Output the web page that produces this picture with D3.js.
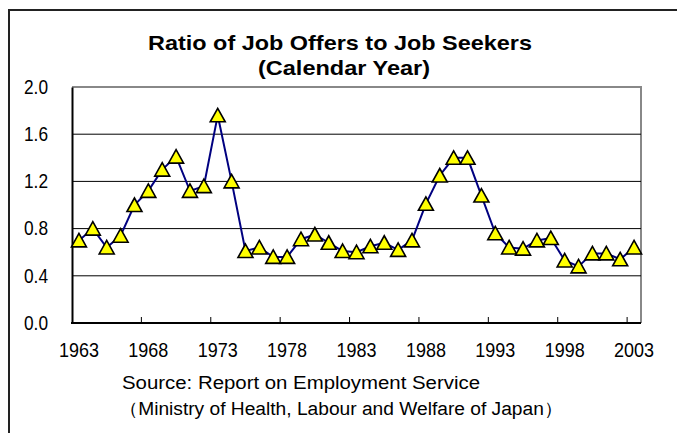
<!DOCTYPE html>
<html>
<head>
<meta charset="utf-8">
<script src="https://cdn.jsdelivr.net/npm/d3@7"></script>
<style>
  body { margin: 0; background: #fff; }
  text { font-family: "Liberation Sans", Arial, sans-serif; fill: #000; }
</style>
</head>
<body>
<div id="app"></div>
<script>
const WIDTH = 677
const HEIGHT = 433

// data
const years = d3.range(1963, 2004)
const ratios = [
  0.70, 0.80, 0.64, 0.74, 1.00, 1.12, 1.30, 1.41, 1.12, 1.16,
  1.76, 1.20, 0.61, 0.64, 0.56, 0.56, 0.71, 0.75, 0.68, 0.61,
  0.60, 0.65, 0.68, 0.62, 0.70, 1.01, 1.25, 1.40, 1.40, 1.08,
  0.76, 0.64, 0.63, 0.70, 0.72, 0.53, 0.48, 0.59, 0.59, 0.54,
  0.64
]
const yTicks = [0, 0.4, 0.8, 1.2, 1.6, 2.0]
const labelYears = [1963, 1968, 1973, 1978, 1983, 1988, 1993, 1998, 2003]
const tickYears = [1968, 1973, 1978, 1983, 1988, 1993, 1998, 2003]

const titleLines = ['Ratio of Job Offers to Job Seekers', '(Calendar Year)']
const sourceLines = ['Source: Report on Employment Service', '（Ministry of Health, Labour and Welfare of Japan）']

const plot = { left: 72, right: 641, top: 87, bottom: 323 }

const x = d3.scaleBand()
  .domain(years)
  .range([plot.left, plot.right])
  .padding(0)

const y = d3.scaleLinear()
  .domain([0, 2])
  .range([plot.bottom, plot.top])

const cx = d => x(d) + x.bandwidth() / 2

const svg = d3.select('#app').append('svg')
  .attr('width', WIDTH)
  .attr('height', HEIGHT)

// outer chart frame (only top and left visible)
svg.append('path')
  .attr('d', `M9,${HEIGHT}V10H${WIDTH}`)
  .attr('fill', 'none')
  .attr('stroke', '#222')
  .attr('stroke-width', 2)

// title
svg.append('text')
  .attr('x', 340).attr('y', 50)
  .attr('text-anchor', 'middle')
  .attr('font-size', 21).attr('font-weight', 'bold')
  .attr('textLength', 384).attr('lengthAdjust', 'spacingAndGlyphs')
  .text(titleLines[0])
svg.append('text')
  .attr('x', 344).attr('y', 75)
  .attr('text-anchor', 'middle')
  .attr('font-size', 21).attr('font-weight', 'bold')
  .attr('textLength', 172).attr('lengthAdjust', 'spacingAndGlyphs')
  .text(titleLines[1])

// plot area border (top and right, gray)
svg.append('path')
  .attr('d', `M${plot.left},${plot.top}H${plot.right}V${plot.bottom}`)
  .attr('fill', 'none')
  .attr('stroke', '#888')
  .attr('stroke-width', 2)

// gridlines
svg.append('g')
  .selectAll('line')
  .data(yTicks.filter(d => d > 0 && d < 2))
  .join('line')
  .attr('x1', plot.left).attr('x2', plot.right)
  .attr('y1', d => y(d)).attr('y2', d => y(d))
  .attr('stroke', '#000')
  .attr('stroke-width', 1)

// y axis
const yAxis = svg.append('g')
  .attr('transform', `translate(${plot.left},0)`)
  .call(d3.axisLeft(y).tickValues(yTicks).tickFormat(d3.format('.1f')).tickSize(0).tickPadding(24))
yAxis.select('.domain').attr('stroke', '#000').attr('stroke-width', 2)
yAxis.selectAll('text')
  .attr('font-size', 19.5).attr('font-family', null)
  .attr('textLength', 24).attr('lengthAdjust', 'spacingAndGlyphs')

// x axis labels
const xAxis = svg.append('g')
  .attr('transform', `translate(0,${plot.bottom})`)
  .call(d3.axisBottom(x).tickValues(labelYears).tickSize(0).tickPadding(20))
xAxis.select('.domain').remove()
xAxis.selectAll('text')
  .attr('font-size', 19.5).attr('font-family', null)
  .attr('textLength', 40).attr('lengthAdjust', 'spacingAndGlyphs')

svg.append('line')
  .attr('x1', plot.left - 1).attr('x2', plot.right)
  .attr('y1', plot.bottom).attr('y2', plot.bottom)
  .attr('stroke', '#000').attr('stroke-width', 2)

// x tick marks at category boundaries, pointing inwards
svg.append('g')
  .selectAll('line')
  .data(tickYears)
  .join('line')
  .attr('x1', d => x(d)).attr('x2', d => x(d))
  .attr('y1', plot.bottom).attr('y2', plot.bottom - 6)
  .attr('stroke', '#000')

// series line
const line = d3.line()
  .x((d, i) => cx(years[i]))
  .y(d => y(d))

svg.append('path')
  .datum(ratios)
  .attr('d', line)
  .attr('fill', 'none')
  .attr('stroke', '#000080')
  .attr('stroke-width', 2)

// triangle markers
svg.append('g')
  .selectAll('path')
  .data(ratios)
  .join('path')
  .attr('transform', (d, i) => `translate(${cx(years[i])},${y(d)})`)
  .attr('d', 'M0,-7L7.5,6.5L-7.5,6.5Z')
  .attr('fill', '#ffff00')
  .attr('stroke', '#000')
  .attr('stroke-width', 1.6)
  .attr('stroke-linejoin', 'miter')

// source note
svg.append('text')
  .attr('x', 122).attr('y', 389)
  .attr('font-size', 18)
  .attr('textLength', 358).attr('lengthAdjust', 'spacingAndGlyphs')
  .text(sourceLines[0])
svg.append('text')
  .attr('x', 119).attr('y', 415)
  .attr('font-size', 18)
  .attr('textLength', 444).attr('lengthAdjust', 'spacingAndGlyphs')
  .text(sourceLines[1])
</script>
</body>
</html>
